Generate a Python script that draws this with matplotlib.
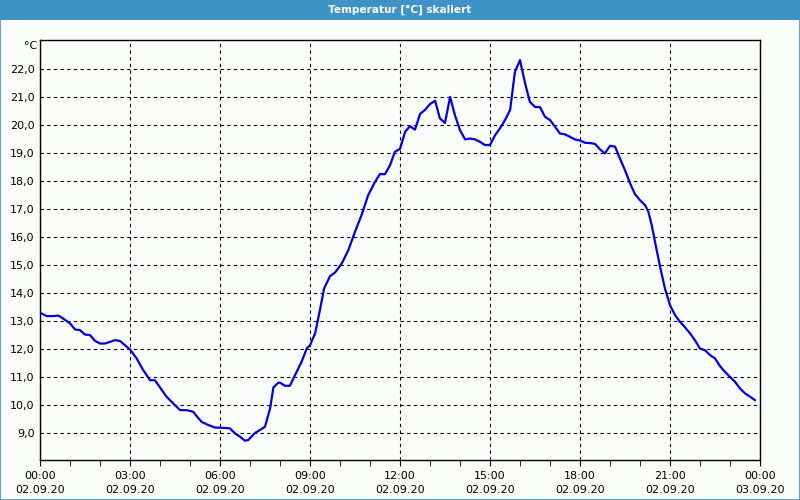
import matplotlib
matplotlib.use("Agg")
import matplotlib.pyplot as plt
from matplotlib.patches import Rectangle
from matplotlib.ticker import FuncFormatter, MultipleLocator

# hours since 02.09.20 00:00 and temperature in degC
hours = [0.0, 0.22, 0.44, 0.61, 0.72, 1.0, 1.17, 1.33, 1.5, 1.67, 1.83, 2.0, 2.17, 2.33, 2.5,
         2.67, 2.83, 3.0, 3.22, 3.44, 3.67, 3.83, 4.0, 4.22, 4.44, 4.67, 4.89, 5.11, 5.22, 5.39,
         5.61, 5.83, 6.06, 6.33, 6.5, 6.67, 6.83, 6.94, 7.17, 7.33, 7.5, 7.67, 7.78, 7.94, 8.0,
         8.17, 8.33, 8.5, 8.72, 8.89, 9.0, 9.17, 9.33, 9.47, 9.67, 9.83, 10.06, 10.28, 10.5,
         10.72, 10.94, 11.17, 11.33, 11.5, 11.67, 11.83, 12.0, 12.17, 12.33, 12.5, 12.67, 12.83,
         13.0, 13.17, 13.33, 13.5, 13.67, 13.83, 14.0, 14.17, 14.33, 14.5, 14.67, 14.83, 15.0,
         15.17, 15.33, 15.5, 15.67, 15.83, 16.0, 16.17, 16.33, 16.5, 16.67, 16.83, 17.0, 17.17,
         17.33, 17.5, 17.67, 17.83, 18.0, 18.17, 18.33, 18.5, 18.67, 18.83, 19.0, 19.17, 19.33,
         19.5, 19.67, 19.83, 20.0, 20.17, 20.28, 20.39, 20.5, 20.67, 20.83, 21.0, 21.17, 21.33,
         21.5, 21.67, 21.83, 22.0, 22.17, 22.33, 22.5, 22.67, 22.83, 23.0, 23.17, 23.33, 23.5,
         23.67, 23.83]
temps = [13.30, 13.18, 13.18, 13.20, 13.13, 12.92, 12.70, 12.68, 12.52, 12.50, 12.30, 12.20,
         12.20, 12.26, 12.32, 12.29, 12.14, 11.99, 11.67, 11.25, 10.89, 10.89, 10.63, 10.30,
         10.06, 9.82, 9.82, 9.76, 9.61, 9.40, 9.29, 9.20, 9.19, 9.17, 8.99, 8.87, 8.73, 8.75,
         9.01, 9.11, 9.23, 9.88, 10.63, 10.80, 10.80, 10.69, 10.69, 11.07, 11.55, 12.02, 12.14,
         12.56, 13.39, 14.17, 14.61, 14.73, 15.06, 15.54, 16.19, 16.79, 17.50, 17.98, 18.25,
         18.25, 18.57, 19.05, 19.15, 19.76, 19.96, 19.84, 20.40, 20.54, 20.75, 20.87, 20.24,
         20.08, 21.01, 20.36, 19.82, 19.49, 19.52, 19.49, 19.40, 19.29, 19.29, 19.64, 19.88,
         20.18, 20.54, 21.90, 22.32, 21.49, 20.83, 20.65, 20.64, 20.30, 20.18, 19.94, 19.70,
         19.67, 19.58, 19.49, 19.45, 19.37, 19.36, 19.33, 19.13, 18.99, 19.26, 19.23, 18.81,
         18.39, 17.92, 17.54, 17.32, 17.14, 16.90, 16.43, 15.83, 14.94, 14.17, 13.57, 13.21,
         12.98, 12.78, 12.56, 12.32, 12.02, 11.96, 11.79, 11.67, 11.39, 11.19, 11.01, 10.83,
         10.60, 10.42, 10.30, 10.18]

tick_hours = [0, 3, 6, 9, 12, 15, 18, 21, 24]
tick_labels = ["00:00\n02.09.20", "03:00\n02.09.20", "06:00\n02.09.20", "09:00\n02.09.20",
               "12:00\n02.09.20", "15:00\n02.09.20", "18:00\n02.09.20", "21:00\n02.09.20",
               "00:00\n03.09.20"]

bg = "#fbfdfb"
fig = plt.figure(figsize=(8, 5), dpi=100, facecolor=bg)

# title bar and frame
fig.patches.append(Rectangle((0, 1 - 20 / 500), 1, 20 / 500, transform=fig.transFigure,
                             facecolor="#3d92c6", edgecolor="none", zorder=0))
fig.patches.append(Rectangle((0.0006, 0.001), 0.9988, 0.998, transform=fig.transFigure,
                             facecolor="none", edgecolor="#3d92c6", linewidth=1.2, zorder=5))
fig.text(0.5, 1 - 10 / 500, "Temperatur [°C] skaliert", color="white", fontsize=7.6,
         fontweight="bold", ha="center", va="center")

ax = fig.add_axes([40 / 800, 40 / 500, 720 / 800, 420 / 500])
ax.set_facecolor(bg)
ax.plot(hours, temps, color="#0000e6", linewidth=1.6, zorder=3)

ax.set_xlim(0, 24)
ax.set_ylim(8.04, 23.04)
ax.set_xticks(tick_hours)
ax.set_xticklabels(tick_labels, fontsize=8, linespacing=1.5)
ax.xaxis.set_minor_locator(MultipleLocator(1))
ax.set_yticks(range(9, 23))
ax.yaxis.set_major_formatter(FuncFormatter(lambda v, p: f"{v:.1f}".replace(".", ",")))
ax.tick_params(axis="y", length=0, labelsize=8, pad=4)
ax.tick_params(axis="x", which="both", length=4, direction="out", pad=4)
ax.grid(True, which="major", color="black", linestyle=(0, (3, 3)), linewidth=0.8)
for s in ax.spines.values():
    s.set_linewidth(1.0)

fig.text(31 / 800, 1 - 46 / 500, "°C", fontsize=8, ha="center", va="center")

fig.savefig("out.png", dpi=100, facecolor=bg)
